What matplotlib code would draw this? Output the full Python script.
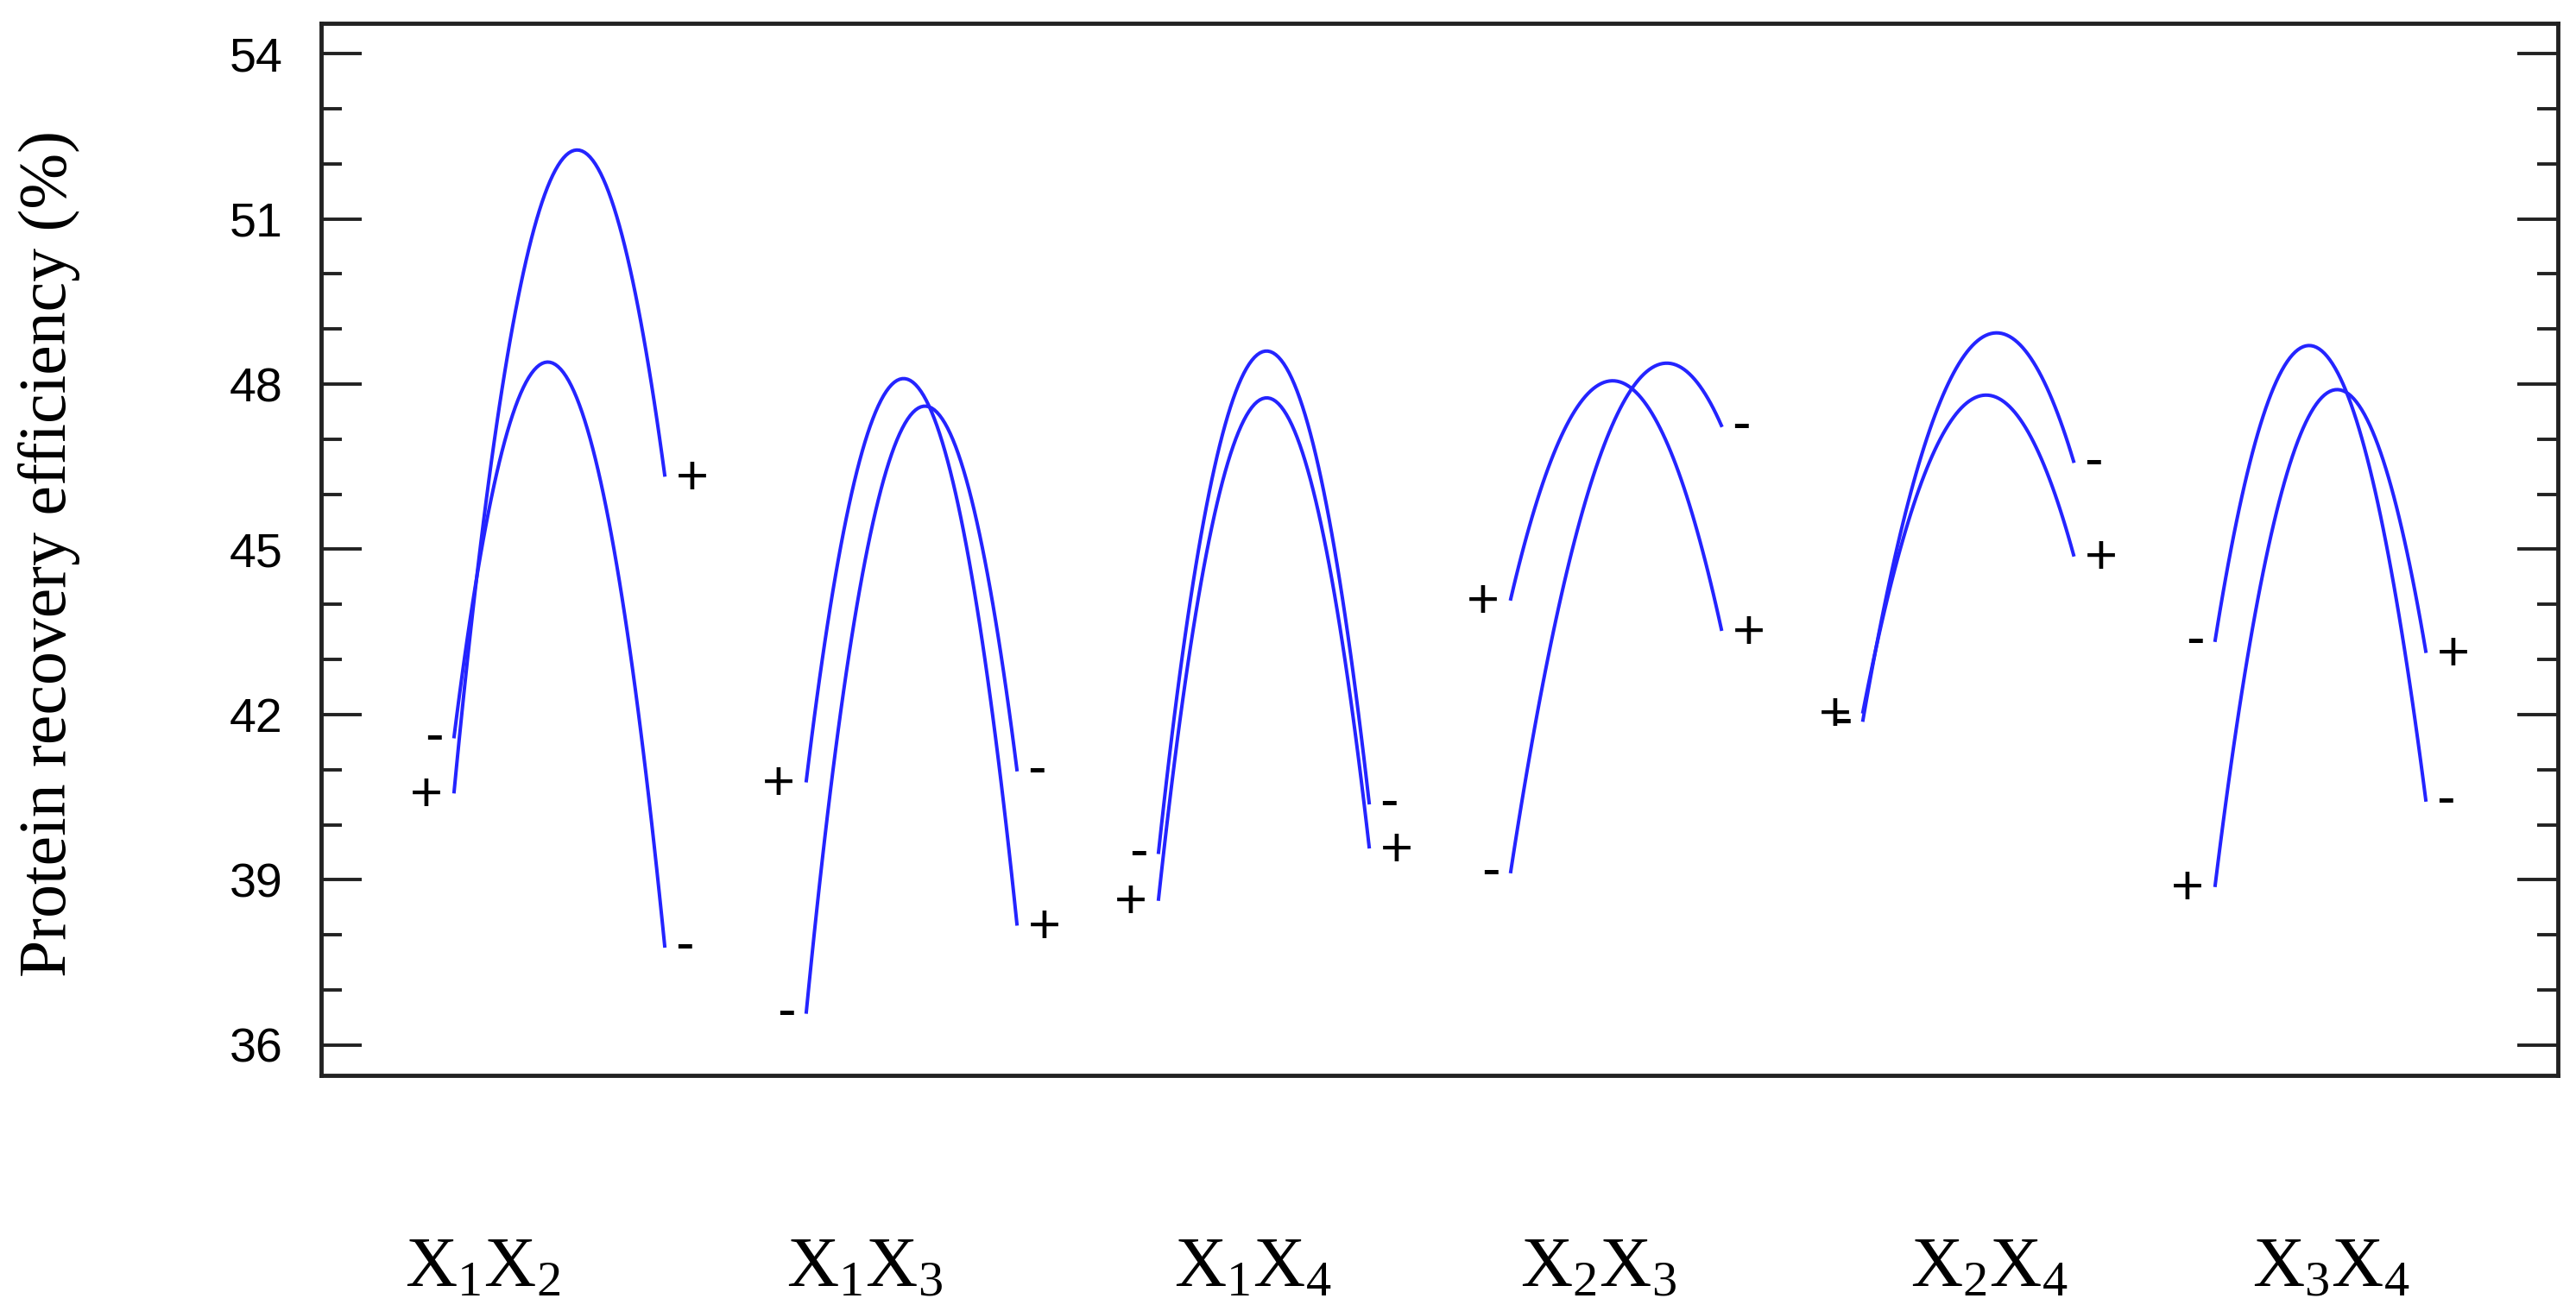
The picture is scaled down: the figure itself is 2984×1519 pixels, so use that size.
import numpy as np
import matplotlib.pyplot as plt
from matplotlib.ticker import MultipleLocator

plt.rcParams['font.family'] = ['Liberation Sans', 'DejaVu Sans']
plt.rcParams['mathtext.fontset'] = 'custom'
plt.rcParams['mathtext.rm'] = 'Liberation Serif'
plt.rcParams['mathtext.it'] = 'Liberation Serif:italic'

#-------------------------------- data --------------------------------#
groups = [r'X$_\mathrm{1}$X$_\mathrm{2}$', r'X$_\mathrm{1}$X$_\mathrm{3}$',
          r'X$_\mathrm{1}$X$_\mathrm{4}$', r'X$_\mathrm{2}$X$_\mathrm{3}$',
          r'X$_\mathrm{2}$X$_\mathrm{4}$', r'X$_\mathrm{3}$X$_\mathrm{4}$']

# response at the low end, the maximum and the high end of each curve
plus_left = [40.6, 40.8, 38.65, 44.1, 42.05, 38.9]
plus_peak = [52.25, 48.1, 47.75, 48.06, 47.8, 47.9]
plus_right = [46.35, 38.2, 39.6, 43.55, 44.9, 43.15]

minus_left = [41.6, 36.6, 39.5, 39.15, 41.9, 43.35]
minus_peak = [48.4, 47.6, 48.6, 48.38, 48.93, 48.7]
minus_right = [37.8, 41.0, 40.4, 47.25, 46.6, 40.45]

yticks = [36, 39, 42, 45, 48, 51, 54]

# where the group names sit under the axis (same units as the curves)
label_x = [0.784, 1.868, 2.97, 3.95, 5.06, 6.03]


def quad(left, peak, right, t):
    # parabola through (-1, left) and (1, right) whose maximum is peak
    m = (left + right) / 2
    b = (right - left) / 2
    d = peak - m
    k = (d + np.sqrt(max(d * d - b * b, 0))) / 2
    return m + k + b * t - k * t ** 2


#-------------------------------- plot --------------------------------#
fig = plt.figure(figsize=(29.84, 15.19), dpi=100)
ax = fig.add_axes([0.12466, 0.17973, 0.86830, 0.80250])

half = 0.299
t = np.linspace(-1, 1, 80)
blue = '#2424ff'

for i in range(len(groups)):
    xs = i + 1 + half * t
    # label, ends and peak, horizontal / vertical offset of the end labels
    curves = [('+', plus_left[i], plus_peak[i], plus_right[i], 23, -4),
              ('-', minus_left[i], minus_peak[i], minus_right[i], 16.5, -1)]
    for lab, yl, yp, yr, dx, dy in curves:
        ax.plot(xs, quad(yl, yp, yr, t), color=blue, lw=2.9)
        ax.annotate(lab, (xs[0], yl), xytext=(-dx, dy), textcoords='offset points',
                    ha='center', va='center', fontsize=47, color='black')
        ax.annotate(lab, (xs[-1], yr), xytext=(dx, dy), textcoords='offset points',
                    ha='center', va='center', fontsize=47, color='black')

for x, name in zip(label_x, groups):
    ax.text(x, -0.2, name, transform=ax.get_xaxis_transform(), ha='center',
            va='baseline', fontsize=60, family='Liberation Serif', clip_on=False)

ax.set_xlim(0.3235, 6.674)
ax.set_ylim(35.45, 54.55)
ax.set_yticks(yticks)
ax.yaxis.set_minor_locator(MultipleLocator(1))
ax.tick_params(axis='y', which='both', direction='in', left=True, right=True,
               labelsize=40, pad=32, width=2.8, color='#222222')
ax.tick_params(axis='y', which='major', length=34)
ax.tick_params(axis='y', which='minor', length=17)
ax.tick_params(axis='x', bottom=False, labelbottom=False)
for s in ax.spines.values():
    s.set_linewidth(3.5)
    s.set_color('#222222')

ax.set_ylabel('Protein recovery efficiency (%)', family='Liberation Serif',
              fontsize=56, va='center')
ax.yaxis.set_label_coords(-0.1216, 0.4955)

fig.savefig('out.png', dpi=100)
